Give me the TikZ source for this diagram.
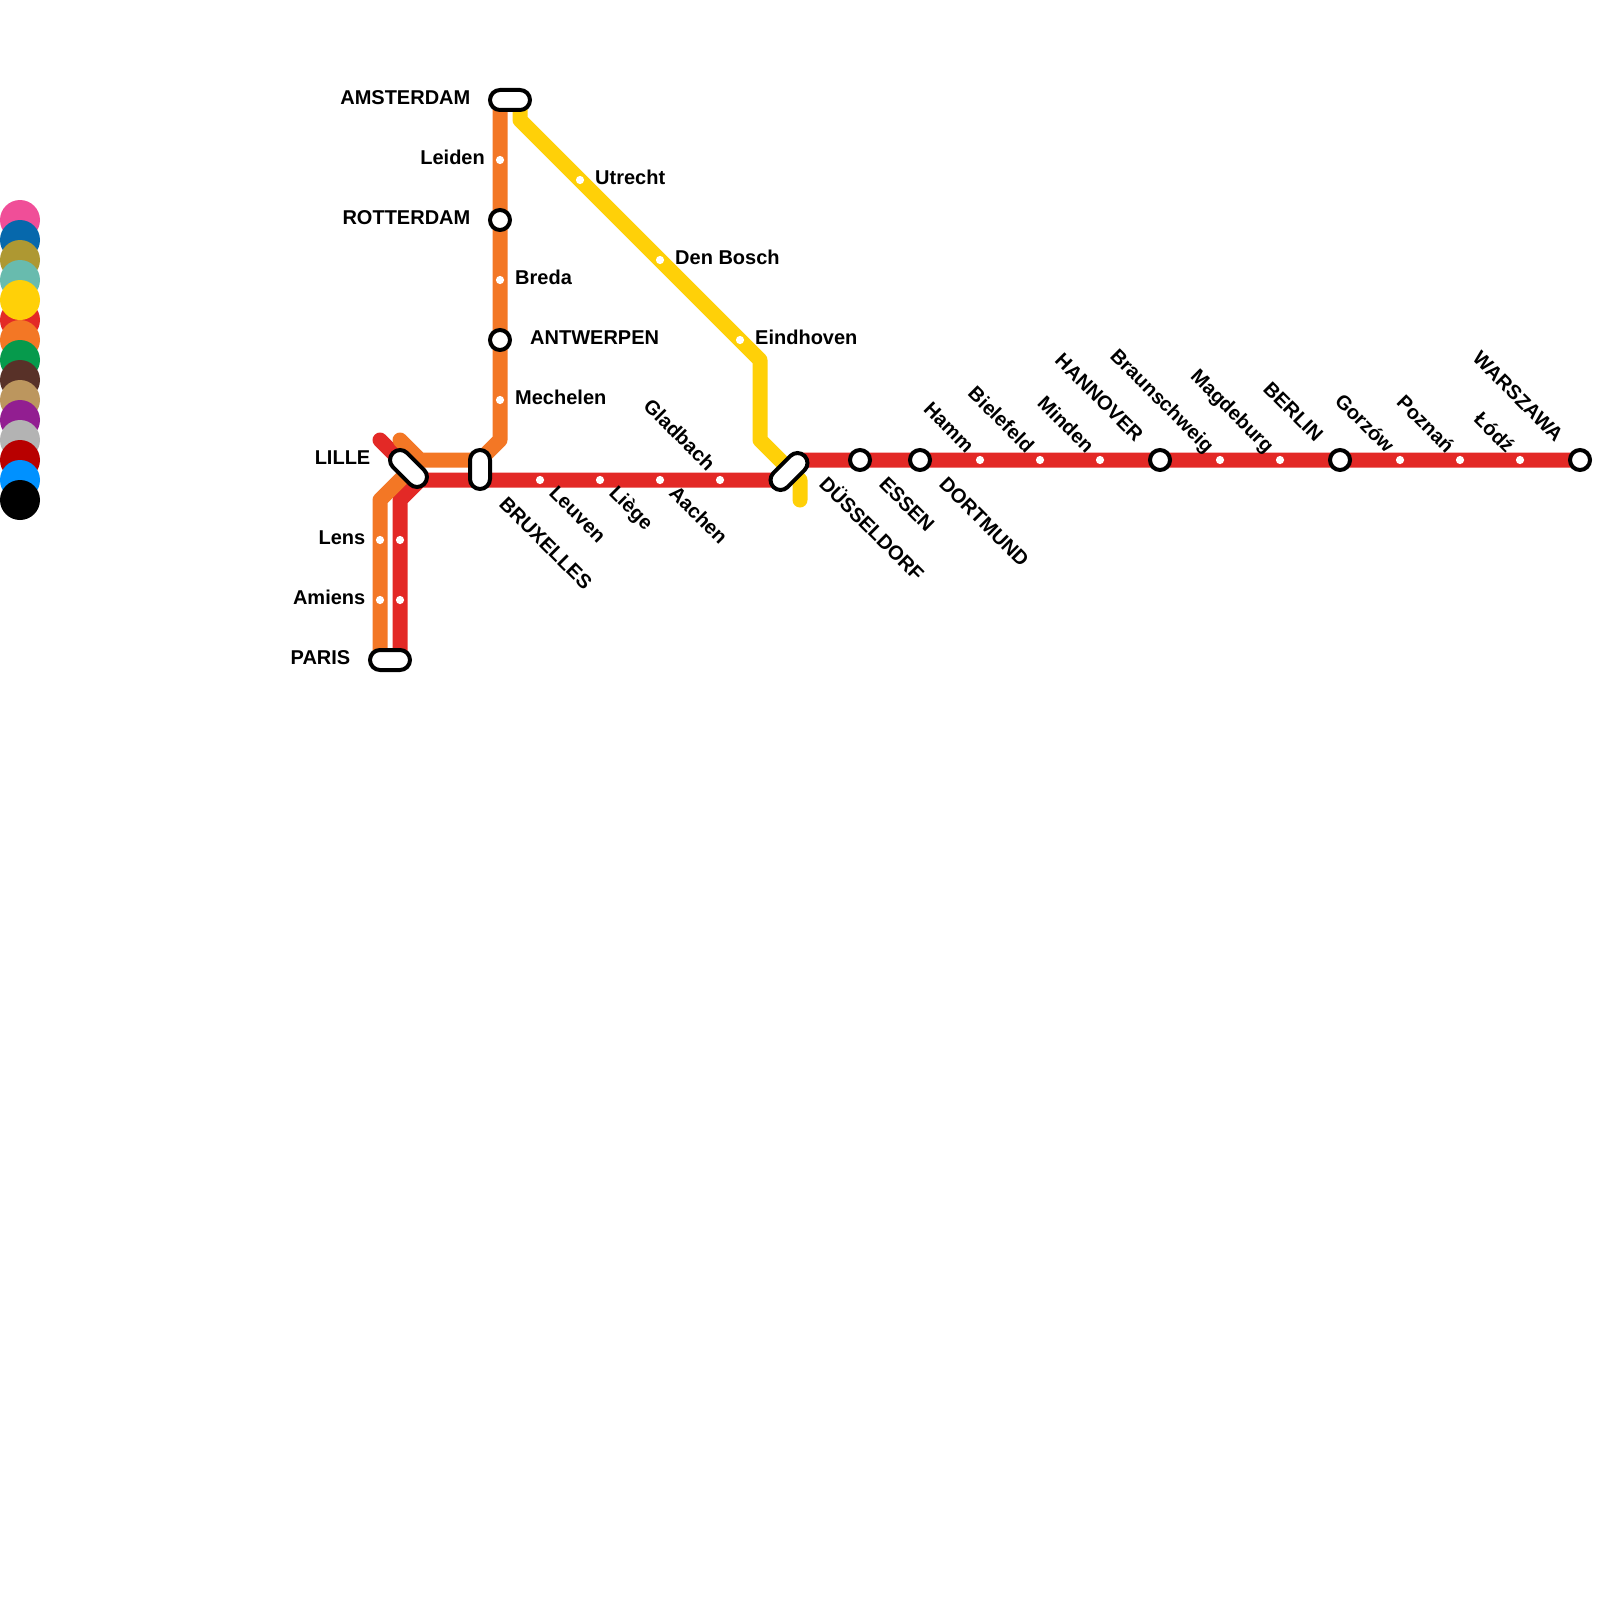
\documentclass[tikz,border=0pt]{standalone}
\usepackage{fontspec}
\setmainfont{Liberation Sans}
\usetikzlibrary{backgrounds,shapes.misc}
\definecolor{cRed}{HTML}{E32926}
\definecolor{cOrange}{HTML}{F37725}
\definecolor{cYellow}{HTML}{FFD008}
\tikzset{
  x=1pt,y=-1pt,
  rail/.style={line width=15pt,line cap=round,line join=round},
  stopdot/.style={circle,fill=white,inner sep=0pt,minimum size=8.2pt},
  hub/.style={circle,draw=black,fill=white,line width=4pt,inner sep=0pt,minimum size=20pt},
  pill/.style={rounded rectangle,draw=black,fill=white,line width=4pt,inner sep=0pt,minimum height=20pt},
  legend/.style={circle,inner sep=0pt,minimum size=40pt},
  lbl/.style={font=\fontsize{20}{24}\selectfont\bfseries,inner sep=0pt,text height=14.3pt,text depth=0pt},
  lbe/.style={lbl,anchor=east},
  lbw/.style={lbl,anchor=west},
  lbdown/.style={lbl,anchor=west,rotate=-45},
  lbup/.style={lbl,anchor=east,rotate=-45}
}
\begin{document}
\begin{tikzpicture}
\useasboundingbox (0,0) rectangle (1600,1600);
% legend
\node[legend,fill={rgb,255:red,240;green,78;blue,152}] (k1) at (20,220) {};
\node[legend,fill={rgb,255:red,6;green,104;blue,172}] (k2) at (20,240) {};
\node[legend,fill={rgb,255:red,174;green,152;blue,50}] (k3) at (20,260) {};
\node[legend,fill={rgb,255:red,104;green,187;blue,174}] (k4) at (20,280) {};
\node[legend,fill=cRed] (k6) at (20,320) {};
\node[legend,fill=cOrange] (k7) at (20,340) {};
\node[legend,fill={rgb,255:red,6;green,154;blue,76}] (k8) at (20,360) {};
\node[legend,fill={rgb,255:red,88;green,49;blue,40}] (k9) at (20,380) {};
\node[legend,fill={rgb,255:red,188;green,150;blue,94}] (k10) at (20,400) {};
\node[legend,fill={rgb,255:red,146;green,30;blue,145}] (k11) at (20,420) {};
\node[legend,fill={rgb,255:red,179;green,179;blue,179}] (k12) at (20,440) {};
\node[legend,fill={rgb,255:red,184;green,0;blue,0}] (k13) at (20,460) {};
\node[legend,fill={rgb,255:red,0;green,145;blue,255}] (k14) at (20,480) {};
\node[legend,fill=black] (k15) at (20,500) {};
\node[legend,fill=cYellow] (k5) at (20,300) {};
% bends
\coordinate (rA) at (400,660);
\coordinate (rB) at (400,500);
\coordinate (rC) at (420,480);
\coordinate (rD) at (780,480);
\coordinate (rE) at (800,460);
\coordinate (rF) at (380,440);
\coordinate (oA) at (380,660);
\coordinate (oB) at (380,500);
\coordinate (oC) at (420,460);
\coordinate (oD) at (400,440);
\coordinate (oE) at (480,460);
\coordinate (oF) at (500,440);
\coordinate (oG) at (500,100);
\coordinate (yA) at (520,100);
\coordinate (yB) at (520,120);
\coordinate (yC) at (760,360);
\coordinate (yD) at (760,440);
\coordinate (yE) at (800,480);
\coordinate (yF) at (800,500);
% stations
\node[pill,minimum width=40pt] (amsterdam) at (510,100) {};
\node[pill,minimum width=40pt] (paris) at (390,660) {};
\node[pill,minimum width=44pt,rotate=-45] (lille) at (408.5,468.5) {};
\node[pill,minimum width=39pt,rotate=90] (bruxelles) at (480,469.5) {};
\node[pill,minimum width=44pt,rotate=45] (dusseldorf) at (789,471.5) {};
\node[hub] (rotterdam) at (500,220) {};
\node[hub] (antwerpen) at (500,340) {};
\node[hub] (essen) at (860,460) {};
\node[hub] (dortmund) at (920,460) {};
\node[hub] (hannover) at (1160,460) {};
\node[hub] (berlin) at (1340,460) {};
\node[hub] (warszawa) at (1580,460) {};
\node[stopdot] (leiden) at (500,160) {};
\node[stopdot] (breda) at (500,280) {};
\node[stopdot] (mechelen) at (500,400) {};
\node[stopdot] (utrecht) at (580,180) {};
\node[stopdot] (denbosch) at (660,260) {};
\node[stopdot] (eindhoven) at (740,340) {};
\node[stopdot] (lensO) at (380,540) {};
\node[stopdot] (lensR) at (400,540) {};
\node[stopdot] (amiensO) at (380,600) {};
\node[stopdot] (amiensR) at (400,600) {};
\node[stopdot] (leuven) at (540,480) {};
\node[stopdot] (liege) at (600,480) {};
\node[stopdot] (aachen) at (660,480) {};
\node[stopdot] (gladbach) at (720,480) {};
\node[stopdot] (hamm) at (980,460) {};
\node[stopdot] (bielefeld) at (1040,460) {};
\node[stopdot] (minden) at (1100,460) {};
\node[stopdot] (braunschweig) at (1220,460) {};
\node[stopdot] (magdeburg) at (1280,460) {};
\node[stopdot] (gorzow) at (1400,460) {};
\node[stopdot] (poznan) at (1460,460) {};
\node[stopdot] (lodz) at (1520,460) {};
% lines
\begin{scope}[on background layer]
\draw[rail,cRed] (rF) -- (rC);
\draw[rail,cRed] (rA) -- (rB) -- (rC) -- (rD) -- (rE) -- (warszawa.center);
\draw[rail,cOrange] (oA) -- (oB) -- (oC);
\draw[rail,cOrange] (oD) -- (oC) -- (oE) -- (oF) -- (oG);
\draw[rail,cYellow] (yA) -- (yB) -- (yC) -- (yD) -- (yE) -- (yF);
\end{scope}
% labels
\node[lbe] (tAms) at (470.5,97.5) {AMSTERDAM};
\node[lbe] (tLei) at (485,157.5) {Leiden};
\node[lbe] (tRot) at (470.5,217.5) {ROTTERDAM};
\node[lbw] (tBre) at (515,277.5) {Breda};
\node[lbw] (tAnt) at (530,337.5) {ANTWERPEN};
\node[lbw] (tMec) at (515,397.5) {Mechelen};
\node[lbw] (tUtr) at (595,177.5) {Utrecht};
\node[lbw] (tDen) at (675,257.5) {Den Bosch};
\node[lbw] (tEin) at (755,337.5) {Eindhoven};
\node[lbe] (tLil) at (370.5,457.5) {LILLE};
\node[lbe] (tLen) at (365.5,537.5) {Lens};
\node[lbe] (tAmi) at (365.5,597.5) {Amiens};
\node[lbe] (tPar) at (350.5,657.5) {PARIS};
\node[lbdown] (tBru) at (503,500) {BRUXELLES};
\node[lbdown] (tLeu) at (553,489) {Leuven};
\node[lbdown] (tLie) at (613,489) {Liège};
\node[lbdown] (tAac) at (673,489) {Aachen};
\node[lbdown] (tDus) at (823,480) {DÜSSELDORF};
\node[lbdown] (tEss) at (883,480) {ESSEN};
\node[lbdown] (tDor) at (943,480) {DORTMUND};
\node[lbup] (tGla) at (712,467) {Gladbach};
\node[lbup] (tHam) at (971,449) {Hamm};
\node[lbup] (tBie) at (1031,449) {Bielefeld};
\node[lbup] (tMin) at (1091,449) {Minden};
\node[lbup] (tHan) at (1140,438) {HANNOVER};
\node[lbup] (tBra) at (1211,449) {Braunschweig};
\node[lbup] (tMag) at (1271,449) {Magdeburg};
\node[lbup] (tBer) at (1320,438) {BERLIN};
\node[lbup] (tGor) at (1391,449) {Gorzów};
\node[lbup] (tPoz) at (1451,449) {Poznań};
\node[lbup] (tLod) at (1511,449) {Łódź};
\node[lbup] (tWar) at (1560,438) {WARSZAWA};
\end{tikzpicture}
\end{document}
